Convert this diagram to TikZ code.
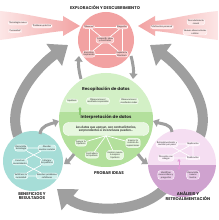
\documentclass[tikz,border=0pt]{standalone}
\usepackage{fontspec}
\setmainfont{Lato}
\newfontfamily\headfont{Poppins}
\usetikzlibrary{arrows.meta,positioning,calc}
\definecolor{txt}{HTML}{2A2A2A}
\definecolor{grayc}{HTML}{9F9F9F}
\definecolor{pinkc}{HTML}{F2A2A2}
\definecolor{pinkl}{HTML}{FCE6E6}
\definecolor{pinkn}{HTML}{F7C6C6}
\definecolor{greenl}{HTML}{D3F0C6}
\definecolor{greend}{HTML}{B3E09C}
\definecolor{greenn}{HTML}{E6F7DE}
\definecolor{greena}{HTML}{8CCB72}
\definecolor{bluec}{HTML}{A6DDD7}
\definecolor{bluen}{HTML}{CDEEEA}
\definecolor{purl}{HTML}{F5DEF2}
\definecolor{purd}{HTML}{CFA2CF}
\definecolor{purn}{HTML}{FCF1FA}
\definecolor{purnd}{HTML}{E8CAE7}
\definecolor{purarr}{HTML}{E49BD8}

\begin{document}
\begin{tikzpicture}[x=1pt,y=1pt,
    lbl/.style={draw=white, line width=0.4pt, rounded corners=2.5pt, fill=#1, align=center, inner sep=0.8pt, font=\fontsize{2.3}{2.6}\selectfont, text=txt},
    ttl/.style={font=\headfont\fontsize{4.1}{4.7}\selectfont\bfseries, align=center, text=txt},
    sub/.style={font=\headfont\fontsize{4.2}{5}\selectfont\bfseries, text=txt},
    zone/.style={circle, minimum size=#1, inner sep=0pt},
    wl/.style={white, line width=0.7pt},
    bigarr/.style={draw=grayc, line width=10pt, -{Triangle[width=26pt,length=17pt]}},
    smarr/.style={draw=grayc, line width=3pt, -{Triangle[width=8pt,length=5.5pt]}}
]
\useasboundingbox (0,0) rectangle (218,220);
\fill[white] (0,0) rectangle (218,220);

\coordinate (la0) at (18,84);
\coordinate (la1) at (68,175);
\coordinate (ra0) at (200,84);
\coordinate (ra1) at (150,175);
\coordinate (ba0) at (165,32);
\coordinate (ba1) at (57,31);
\draw[bigarr] (la0) .. controls (5,120) and (40,155) .. (la1);
\draw[bigarr] (ra0) .. controls (213,120) and (178,155) .. (ra1);
\draw[bigarr] (ba0) .. controls (140,5) and (85,8) .. (ba1);

\shade[left color=pinkl, right color=pinkc] (0,209) .. controls (30,206) and (50,200) .. (63,199) -- (63,204) -- (80,194) -- (63,184) -- (63,189) .. controls (50,188) and (30,184) .. (0,180) -- cycle;
\shade[right color=pinkl, left color=pinkc] (218,209) .. controls (188,206) and (168,200) .. (155,199) -- (155,204) -- (138,194) -- (155,184) -- (155,189) .. controls (168,188) and (188,184) .. (218,180) -- cycle;

\node[zone=56pt, fill=pinkc] (explo) at (106,180) {};
\node[zone=94pt, fill=greenl] (probar) at (106,100) {};
\begin{scope}
  \clip (106,100) circle (47pt);
  \fill[greend] (55,50) rectangle (160,108);
\end{scope}
\node[zone=60pt, fill=bluec] (benef) at (33,59) {};
\node[zone=68pt, fill=purl] (anal) at (182,57) {};
\begin{scope}
  \clip (182,57) circle (34pt);
  \fill[purd] (145,20) rectangle (220,55);
\end{scope}

\draw[smarr] (81,141) to[bend left=10] (79,164);
\draw[smarr] (131,164) to[bend left=10] (133,141);
\draw[smarr] (40,86) to[out=85,in=200] (59,99);
\draw[smarr] (74,66) to[bend left=10] (64,56);
\draw[smarr] (138,66) to[bend right=10] (148,56);
\draw[smarr] (172,88) to[out=95,in=-20] (153,99);

\node[ttl] (tex) at (105,212) {EXPLORACIÓN Y DESCUBRIMIENTO};
\node[lbl=pinkl] (tec) at (18,197) {Tecnología nueva};
\node[lbl=pinkl] (prob) at (42,194) {Problema práctico};
\node[lbl=pinkl] (cur) at (15,189) {Curiosidad};
\node[lbl=pinkl] (casu) at (196,198) {Descubrimiento\\casual};
\node[lbl=pinkl] (moti) at (162,193) {Motivación personal};
\node[lbl=pinkl] (nuev) at (195,188) {Nuevas observaciones\\o datos};

\node[lbl=pinkn] (obs) at (89,193) {Observar};
\node[lbl=pinkn] (preg) at (122,193) {Preguntar};
\node[lbl=pinkn] (insp) at (89,166) {Encontrar\\inspiración};
\node[lbl=pinkn] (lit) at (122,166) {Explorar la\\literatura};
\draw[wl] (obs) -- (preg) (obs) -- (insp) (preg) -- (lit) (insp) -- (lit);
\draw[wl] (obs) -- (lit) (preg) -- (insp);
\node[lbl=pinkn] (comp) at (105,180) {Compartir ideas\\y resultados};

\node[sub] (reco) at (106,131) {Recopilación de datos};
\node[lbl=greenn] (hip) at (72,119) {Hipótesis};
\node[lbl=greenn] (esp) at (98,119) {Observaciones/\\resultados esperados};
\node[lbl=greenn] (real) at (129,119) {Observaciones/\\resultados reales};
\coordinate (up0) at (80,105);
\coordinate (up1) at (80,113);
\draw[greena, line width=1.2pt, -{Triangle[width=3.5pt,length=2.5pt]}] (up0) -- (up1);
\node[sub] (inter) at (106,103) {Interpretación de datos};
\node[lbl=greenn, rounded corners=6pt, minimum width=86pt, minimum height=13pt, font=\fontsize{3.2}{3.6}\selectfont\bfseries] (datos) at (106,91) {Los datos que apoyan, son contradictorios,\\sorprendentes o inconclusos pueden...};
\node[lbl=greenn] (apo) at (81,77) {Apoyar la\\hipótesis};
\node[lbl=greenn] (contra) at (92,65) {Contradecir\\la hipótesis};
\node[lbl=greenn] (insn) at (115,65) {Inspirar nuevas\\o mejores\\hipótesis};
\node[lbl=greenn] (insr) at (133,77) {Inspirar la\\revisión de\\suposiciones};
\draw[wl] (datos.south) -- (apo) (datos.south) -- (contra) (datos.south) -- (insn) (datos.south) -- (insr);
\node[ttl] (probt) at (109,47) {PROBAR IDEAS};

\node[lbl=bluen] (des) at (21,72) {Desarrollar\\tecnología};
\node[lbl=bluen] (abo) at (47,72) {Abordar\\asuntos sociales};
\node[lbl=bluen] (con) at (20,58) {Construir\\conocimiento};
\node[lbl=bluen] (inf) at (47,58) {Informar\\las políticas};
\node[lbl=bluen] (sat) at (21,44) {Satisfacer la\\curiosidad};
\node[lbl=bluen] (res) at (47,44) {Resolver problemas\\cotidianos};
\draw[wl] (des) -- (abo) (des) -- (inf) (abo) -- (con) (con) -- (res) (inf) -- (sat) (sat) -- (res);
\node[ttl] (beneft) at (32,24) {BENEFICIOS Y\\RESULTADOS};

\node[lbl=purn] (retro) at (167,76) {Retroalimentación y\\revisión por pares};
\node[lbl=purn] (repl) at (193,76) {Replicación};
\node[lbl=purn] (disc) at (166,62) {Discusión con\\colegas};
\node[lbl=purn] (publ) at (193,62) {Publicación};
\draw[wl] (retro) -- (repl) (retro) -- (publ) (repl) -- (disc) (repl) -- (publ) (disc) -- (publ);
\node[lbl=purnd] (ident) at (166,45) {Identificar\\nuevas ideas y\\preguntas};
\node[lbl=purnd] (teor) at (193,45) {Desarrollar\\nuevas\\teorías};
\coordinate (da0) at (179,50);
\coordinate (da1) at (179,61);
\draw[purarr, line width=1pt, {Triangle[width=3.5pt,length=2.5pt]}-{Triangle[width=3.5pt,length=2.5pt]}] (da0) -- (da1);
\node[ttl] (analt) at (188,24) {ANÁLISIS Y\\RETROALIMENTACIÓN};
\end{tikzpicture}
\end{document}
